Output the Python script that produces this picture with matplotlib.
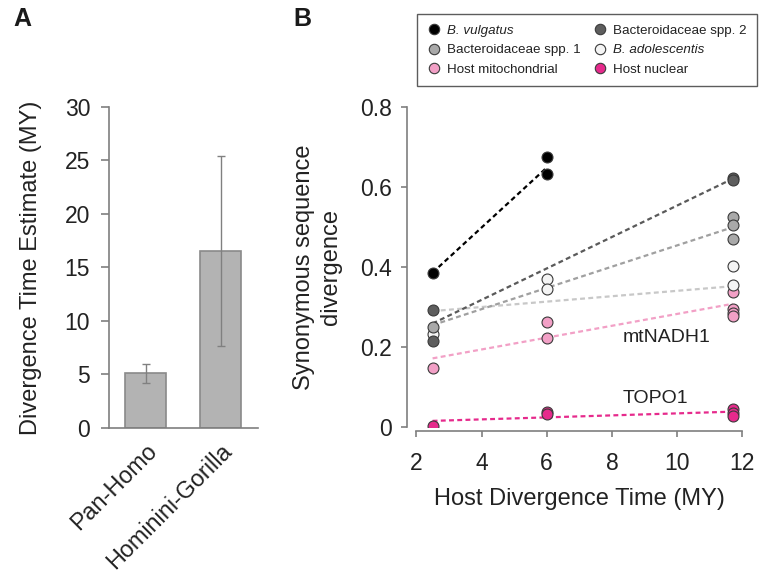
import matplotlib
matplotlib.use('Agg')
import matplotlib.pyplot as plt
from matplotlib.lines import Line2D
from matplotlib.transforms import ScaledTranslation

plt.rcParams['font.family'] = ['Liberation Sans', 'DejaVu Sans']

# panel A: divergence time estimates
pairs = ['Pan-Homo', 'Hominini-Gorilla']
est_time = [5.1, 16.56]
err_low = [4.23, 7.7]
err_high = [5.94, 25.4]

# panel B: synonymous divergence vs host divergence time
series_names = ['Host mitochondrial', 'B. adolescentis', 'Bacteroidaceae spp. 1',
                'Bacteroidaceae spp. 2', 'B. vulgatus', 'Host nuclear']
series_x = [
    [2.5, 6, 6, 11.7, 11.7, 11.7, 11.7],
    [2.5, 6, 6, 11.7, 11.7],
    [2.5, 11.7, 11.7, 11.7],
    [2.5, 2.5, 11.7, 11.7],
    [2.5, 6, 6],
    [2.5, 6, 6, 11.7, 11.7, 11.7],
]
series_y = [
    [0.148, 0.263, 0.224, 0.338, 0.296, 0.285, 0.278],
    [0.234, 0.369, 0.344, 0.402, 0.356],
    [0.251, 0.525, 0.506, 0.469],
    [0.292, 0.215, 0.621, 0.617],
    [0.386, 0.675, 0.632],
    [0.004, 0.038, 0.034, 0.045, 0.036, 0.029],
]
# dashed trend lines (start x, end x, start y, end y)
fit_x0 = [2.5, 2.5, 2.5, 2.5, 2.5, 2.5]
fit_x1 = [11.7, 11.7, 11.7, 11.7, 6.0, 11.7]
fit_y0 = [0.172, 0.290, 0.255, 0.259, 0.386, 0.016]
fit_y1 = [0.308, 0.352, 0.499, 0.620, 0.648, 0.039]

face_colors = ['#f2a0c6', '#f4f4f4', '#a9a9a9', '#5e5e5e', '#000000', '#e62a8c']
line_colors = ['#f2a0c6', '#c8c8c8', '#a0a0a0', '#5a5a5a', '#000000', '#e62a8c']
legend_order = [4, 2, 0, 3, 1, 5]

axis_gray = '#7f7f7f'
text_col = '#222222'

fig = plt.figure(figsize=(7.61, 5.77), dpi=100)

# ---- panel A ----
axA = fig.add_axes([109 / 761, 1 - 428 / 577, 149 / 761, 321.3 / 577])
xpos = [0, 1]
yerr = [[e - l for e, l in zip(est_time, err_low)],
        [h - e for e, h in zip(est_time, err_high)]]
axA.bar(xpos, est_time, width=0.55, color='#b3b3b3', edgecolor='#8a8a8a', linewidth=1.2)
axA.errorbar(xpos, est_time, yerr=yerr, fmt='none', ecolor='#808080',
             elinewidth=1.0, capsize=3, capthick=1.0)
axA.set_xlim(-0.487, 1.5)
axA.set_ylim(0, 30)
axA.set_yticks([0, 5, 10, 15, 20, 25, 30])
axA.set_xticks(xpos)
axA.set_xticklabels(pairs, rotation=45, ha='right', va='top', rotation_mode='anchor',
                    fontsize=16.8, color=text_col)
# shift the rotated labels a little to the right, as in the original
for lab in axA.get_xticklabels():
    lab.set_transform(lab.get_transform() + ScaledTranslation(0.075, 0, fig.dpi_scale_trans))
axA.tick_params(axis='x', length=0, pad=8)
axA.tick_params(axis='y', length=5.5, width=1.2, color=axis_gray, labelsize=16.5,
                labelcolor=text_col, pad=8)
axA.set_ylabel('Divergence Time Estimate (MY)', fontsize=17, color=text_col)
axA.yaxis.set_label_coords(-0.45, 0.5)
for s in ['top', 'right']:
    axA.spines[s].set_visible(False)
for s in ['left', 'bottom']:
    axA.spines[s].set_color(axis_gray)
    axA.spines[s].set_linewidth(1.2)

# ---- panel B ----
axB = fig.add_axes([416.3 / 761, 1 - 427.3 / 577, 326 / 761, 320.6 / 577])
for i in range(len(series_names)):
    axB.plot([fit_x0[i], fit_x1[i]], [fit_y0[i], fit_y1[i]], color=line_colors[i],
             lw=1.6, dashes=(2.2, 1.5), zorder=2)
for i in range(len(series_names)):
    axB.scatter(series_x[i], series_y[i], s=62, facecolor=face_colors[i],
                edgecolor='#3a3a3a', linewidth=0.8, zorder=3 + i)
axB.set_xlim(2, 12)
axB.set_ylim(0, 0.8)
axB.set_xticks([2, 4, 6, 8, 10, 12])
axB.set_yticks([0, 0.2, 0.4, 0.6, 0.8])
axB.set_yticklabels(['0', '0.2', '0.4', '0.6', '0.8'])
axB.tick_params(axis='both', length=4.5, width=1.2, color=axis_gray,
                labelcolor=text_col)
axB.tick_params(axis='x', labelsize=16.5, pad=10)
axB.tick_params(axis='y', labelsize=16.5, pad=6)
axB.set_xlabel('Host Divergence Time (MY)', fontsize=17, color=text_col, labelpad=10)
axB.set_ylabel('Synonymous sequence\ndivergence', fontsize=17, color=text_col,
               linespacing=1.3)
axB.yaxis.set_label_coords(-0.228, 0.5)
for s in ['top', 'right']:
    axB.spines[s].set_visible(False)
axB.spines['left'].set_position(('outward', 7))
axB.spines['bottom'].set_position(('outward', 3))
for s in ['left', 'bottom']:
    axB.spines[s].set_color(axis_gray)
    axB.spines[s].set_linewidth(1.2)

axB.text(8.34, 0.223, 'mtNADH1', fontsize=14, color=text_col, va='center', ha='left')
axB.text(8.34, 0.073, 'TOPO1', fontsize=14, color=text_col, va='center', ha='left')

handles = []
labels = []
for i in legend_order:
    handles.append(Line2D([], [], ls='none', marker='o', markersize=7.5,
                          markerfacecolor=face_colors[i], markeredgecolor='#3a3a3a',
                          markeredgewidth=0.8))
    labels.append(series_names[i])
leg = fig.legend(handles, labels, ncol=2, loc='upper left',
                 bbox_to_anchor=(416.7 / 761, 1 - 14 / 577), borderaxespad=0,
                 fontsize=9.6, frameon=True, fancybox=False, edgecolor='#333333',
                 handletextpad=0.5, columnspacing=0.9, labelspacing=0.52,
                 borderpad=0.8, handlelength=1.0)
leg.get_frame().set_linewidth(1.0)
for t in leg.get_texts():
    t.set_color(text_col)
    if t.get_text().startswith('B. '):
        t.set_fontstyle('italic')

fig.text(13 / 761, 1 - 19 / 577, 'A', fontsize=18, fontweight='bold',
         ha='left', va='center', color='#1a1a1a',
         family=['Liberation Sans Narrow', 'Liberation Sans'])
fig.text(293 / 761, 1 - 19 / 577, 'B', fontsize=18, fontweight='bold',
         ha='left', va='center', color='#1a1a1a',
         family=['Liberation Sans Narrow', 'Liberation Sans'])

fig.savefig('out.png', dpi=100)
